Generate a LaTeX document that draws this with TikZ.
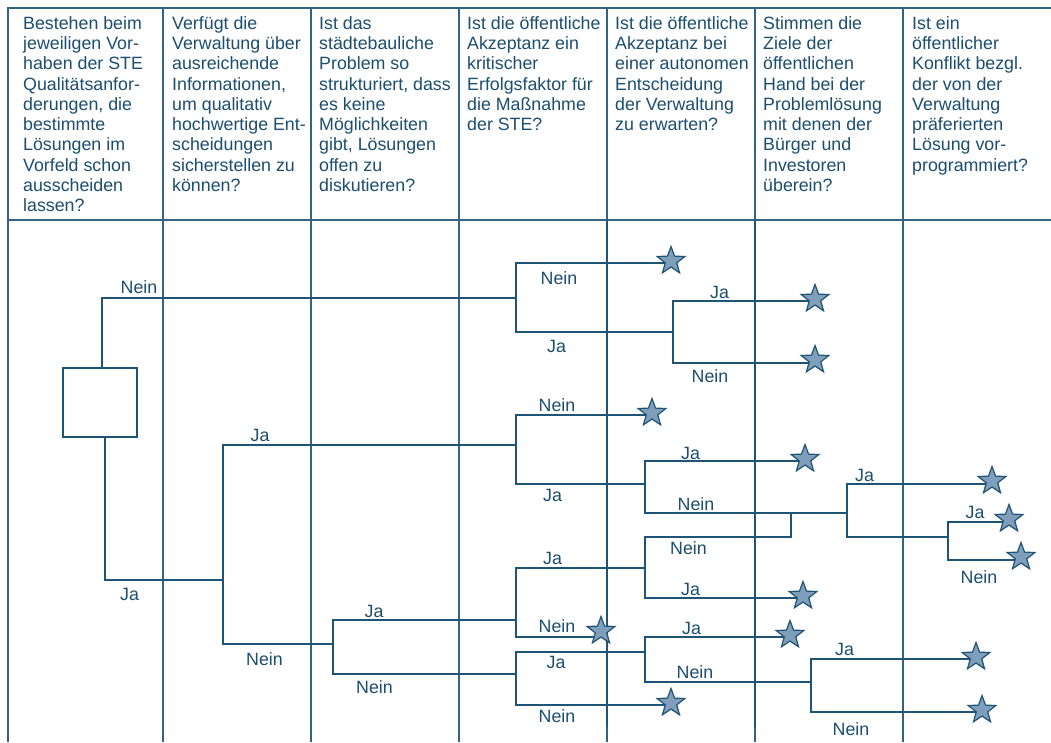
\documentclass[tikz,border=0pt]{standalone}
\usepackage{fontspec}
\setmainfont{Liberation Sans}
\usepackage{tikz}
\usetikzlibrary{shapes.geometric}
\definecolor{STEText}{RGB}{28, 78, 112}
\definecolor{STELine}{RGB}{30, 84, 118}
\definecolor{STEGrid}{RGB}{52, 100, 132}
\definecolor{STEStar}{RGB}{127, 158, 186}
\newcommand{\questionfont}{\fontsize{17.8}{20.3}\selectfont}
\newcommand{\answerfont}{\fontsize{17.8}{20.3}\selectfont}
\tikzset{
  tableline/.style={STEGrid, line width=1.2pt},
  divider/.style={STELine, line width=1.7pt},
  branch/.style={STELine, line width=1.4pt},
  question/.style={anchor=north west, align=left, inner sep=0pt, text=STEText, font=\questionfont},
  answer/.style={anchor=base, inner sep=0pt, text=STEText, font=\answerfont},
  goal/.style={star, star points=5, star point ratio=2.4, minimum size=29pt, inner sep=0pt,
    fill=STEStar, draw=STELine, line width=1.2pt},
}

\begin{document}
\begin{tikzpicture}[x=1pt,y=-1pt]
  \path[use as bounding box] (0,0) rectangle (1051,742);
  \fill[white] (0,0) rectangle (1051,742);
  \draw[tableline] (8,742) -- (8,8) -- (1051,8);
  \draw[tableline] (8,220) -- (1051,220);
  \foreach \x in {163,311,459,607,755,903}{
    \draw[tableline] (\x,8) -- (\x,742);
  }
  \foreach \x in {607,755}{
    \draw[divider] (\x,220) -- (\x,727);
  }

  \node[question] (q1) at (23,16) {Bestehen beim\\jeweiligen Vor-\\haben der STE\\Qualitätsanfor-\\derungen, die\\bestimmte\\Lösungen im\\Vorfeld schon\\ausscheiden\\lassen?};
  \node[question] (q2) at (172,16) {Verfügt die\\Verwaltung über\\ausreichende\\Informationen,\\um qualitativ\\hochwertige Ent-\\scheidungen\\sicherstellen zu\\können?};
  \node[question] (q3) at (319,16) {Ist das\\städtebauliche\\Problem so\\strukturiert, dass\\es keine\\Möglichkeiten\\gibt, Lösungen\\offen zu\\diskutieren?};
  \node[question] (q4) at (467,16) {Ist die öffentliche\\Akzeptanz ein\\kritischer\\Erfolgsfaktor für\\die Maßnahme\\der STE?};
  \node[question] (q5) at (615,16) {Ist die öffentliche\\Akzeptanz bei\\einer autonomen\\Entscheidung\\der Verwaltung\\zu erwarten?};
  \node[question] (q6) at (763,16) {Stimmen die\\Ziele der\\öffentlichen\\Hand bei der\\Problemlösung\\mit denen der\\Bürger und\\Investoren\\überein?};
  \node[question] (q7) at (912,16) {Ist ein\\öffentlicher\\Konflikt bezgl.\\der von der\\Verwaltung\\präferierten\\Lösung vor-\\programmiert?};

  \node[draw=STELine, line width=1.4pt, minimum width=74pt, minimum height=69pt, inner sep=0pt] (root) at (100,402.5) {};

  \coordinate (jA) at (516,298);
  \coordinate (jA2) at (673,332);
  \coordinate (jK) at (223,580);
  \coordinate (jB) at (516,445);
  \coordinate (jC) at (645,484);
  \coordinate (jD) at (847,513);
  \coordinate (jE) at (948,537);
  \coordinate (jL) at (333,644);
  \coordinate (jG) at (516,620);
  \coordinate (jF) at (645,568);
  \coordinate (jM) at (791,537);
  \coordinate (jH) at (516,674);
  \coordinate (jI) at (645,652);
  \coordinate (jJ) at (811,682);

  \coordinate (e1) at (669,263);
  \coordinate (e2) at (813,301);
  \coordinate (e3) at (813,363);
  \coordinate (e4) at (650,415);
  \coordinate (e5) at (803,461);
  \coordinate (e6) at (990,484);
  \coordinate (e7) at (1007,522);
  \coordinate (e8) at (1019,560);
  \coordinate (e9) at (801,598);
  \coordinate (e10) at (594,637);
  \coordinate (e11) at (788,637);
  \coordinate (e12) at (974,659);
  \coordinate (e13) at (980,712);
  \coordinate (e14) at (669,705);

  \draw[branch] ([xshift=2pt]root.north) |- (jA);
  \draw[branch] ([xshift=5pt]root.south) |- (jK);
  \draw[branch] (jA) |- (e1);
  \draw[branch] (jA) |- (jA2);
  \draw[branch] (jA2) |- (e2);
  \draw[branch] (jA2) |- (e3);
  \draw[branch] (jK) |- (jB);
  \draw[branch] (jK) |- (jL);
  \draw[branch] (jB) |- (e4);
  \draw[branch] (jB) |- (jC);
  \draw[branch] (jC) |- (e5);
  \draw[branch] (jC) |- (jD);
  \draw[branch] (jD) |- (e6);
  \draw[branch] (jD) |- (jE);
  \draw[branch] (jE) |- (e7);
  \draw[branch] (jE) |- (e8);
  \draw[branch] (jL) |- (jG);
  \draw[branch] (jL) |- (jH);
  \draw[branch] (jG) |- (jF);
  \draw[branch] (jG) |- (e10);
  \draw[branch] (jF) |- (jM) -- (jM |- jD);
  \draw[branch] (jF) |- (e9);
  \draw[branch] (jH) |- (jI);
  \draw[branch] (jH) |- (e14);
  \draw[branch] (jI) |- (e11);
  \draw[branch] (jI) |- (jJ);
  \draw[branch] (jJ) |- (e12);
  \draw[branch] (jJ) |- (e13);

  \foreach \s/\x/\y in {1/671/261, 2/815/299, 3/815/360, 4/652/413, 5/805/459, 6/992/481,
    7/1009/519, 8/1021/557, 9/803/596, 10/601/631, 11/790/635, 12/976/657, 13/982/710, 14/671/703}{
    \node[goal] (s\s) at (\x,\y) {};
  }

  \foreach \t/\x/\y [count=\i] in {Nein/139/293, Ja/129.5/600, Ja/260/441, Nein/264.5/665,
    Ja/374/617, Nein/374.5/693, Nein/559/284, Ja/556.5/352, Ja/719.5/298, Nein/710/382,
    Nein/557/411, Ja/552.5/501, Ja/690.5/459, Nein/696/510, Ja/864.5/481, Ja/975/518,
    Nein/979/583, Nein/688.5/554, Ja/690.5/595, Ja/552.5/564, Nein/557/632, Ja/556/668,
    Nein/557/722, Ja/691.5/634, Nein/695/678, Ja/844.5/655, Nein/851/735}{
    \node[answer] (a\i) at (\x,\y) {\t};
  }
\end{tikzpicture}
\end{document}
